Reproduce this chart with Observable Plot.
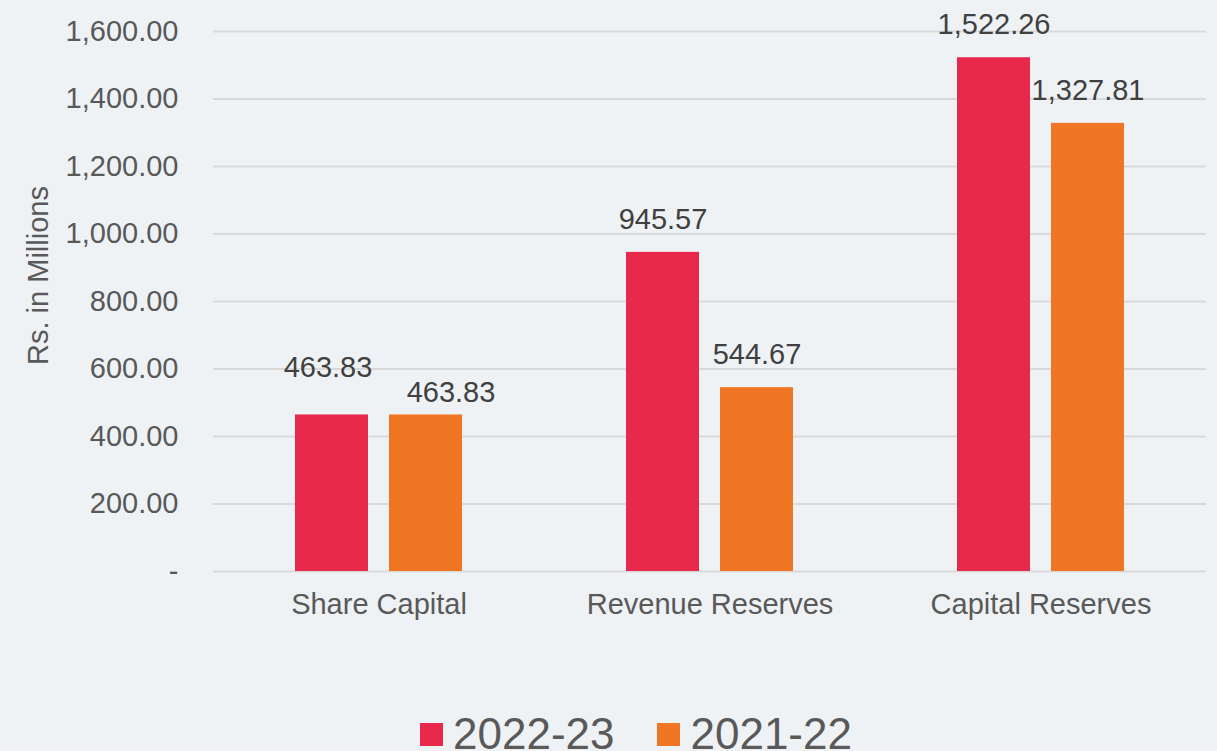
<!DOCTYPE html>
<html>
<head>
<meta charset="utf-8">
<script src="https://cdn.jsdelivr.net/npm/d3@7"></script>
<script src="https://cdn.jsdelivr.net/npm/@observablehq/plot@0.6"></script>
<style>
  html, body { margin: 0; padding: 0; background: #eff2f4; overflow: hidden; }
  body { position: relative; width: 1217px; height: 751px; font-family: "Liberation Sans", Arial, sans-serif; }
  #legend { position: absolute; left: 420px; top: 712px; display: flex; align-items: flex-start; font-size: 44px; line-height: 44px; color: #595959; white-space: nowrap; }
  .item { display: flex; align-items: flex-start; margin-right: 43px; }
  .sw { width: 23px; height: 23px; margin-right: 10px; margin-top: 11px; }
</style>
</head>
<body>
<div id="chart"></div>
<div id="legend"></div>
<script>
const categories = ["Share Capital", "Revenue Reserves", "Capital Reserves"];
const series = ["2022-23", "2021-22"];
const values2022 = [463.83, 945.57, 1522.26];
const values2021 = [463.83, 544.67, 1327.81];
const yTicks = [0, 200, 400, 600, 800, 1000, 1200, 1400, 1600];
const colors = ["#e8294b", "#f07623"];

const data = [];
categories.forEach((c, i) => {
  data.push({category: c, series: series[0], value: values2022[i]});
  data.push({category: c, series: series[1], value: values2021[i]});
});
const fmt = d3.format(",.2f");

const plot = Plot.plot({
  width: 1217,
  height: 660,
  marginLeft: 212,
  marginRight: 10,
  marginTop: 31,
  marginBottom: 89,
  style: {background: "transparent", fontFamily: "Liberation Sans, Arial, sans-serif"},
  fx: {domain: categories, paddingInner: 0, paddingOuter: 0, label: null, axis: null},
  x: {domain: series, paddingInner: 0.221, paddingOuter: 0.856, axis: null},
  y: {domain: [0, 1600], axis: null},
  color: {domain: series, range: colors},
  marks: [
    Plot.ruleY(yTicks, {stroke: "#d9d9d9", strokeWidth: 2}),
    Plot.barY(data, {fx: "category", x: "series", y: "value", fill: "series"}),
    Plot.text(data.filter(d => d.category !== categories[0]), {
      fx: "category", x: "series", y: "value", text: d => fmt(d.value),
      dy: -33, fontSize: 29, fill: "#404040"
    }),
    Plot.text(data.filter(d => d.category === categories[0] && d.series === series[0]), {
      fx: "category", x: "series", y: "value", text: d => fmt(d.value),
      dy: -47, dx: -4, fontSize: 29, fill: "#404040"
    }),
    Plot.text(data.filter(d => d.category === categories[0] && d.series === series[1]), {
      fx: "category", x: "series", y: "value", text: d => fmt(d.value),
      dy: -22, dx: 25, fontSize: 29, fill: "#404040"
    }),
    Plot.axisY(yTicks, {
      tickSize: 0, tickPadding: 35, fontSize: 29, color: "#595959",
      tickFormat: d => d === 0 ? "-" : fmt(d), label: null
    }),
    Plot.axisFx({anchor: "bottom", tickSize: 0, tickPadding: 22, fontSize: 29, color: "#595959", label: null}),
    Plot.text([{category: categories[0]}], {
      fx: "category", frameAnchor: "left", text: () => "Rs. in Millions",
      textAnchor: "middle", rotate: -90, dx: -175, dy: -26, fontSize: 29, fill: "#595959"
    })
  ]
});
document.getElementById("chart").appendChild(plot);

const legend = document.getElementById("legend");
series.forEach((s, i) => {
  const item = document.createElement("div");
  item.className = "item";
  const sw = document.createElement("div");
  sw.className = "sw";
  sw.style.background = colors[i];
  const t = document.createElement("span");
  t.textContent = s;
  item.appendChild(sw);
  item.appendChild(t);
  legend.appendChild(item);
});
</script>
</body>
</html>
